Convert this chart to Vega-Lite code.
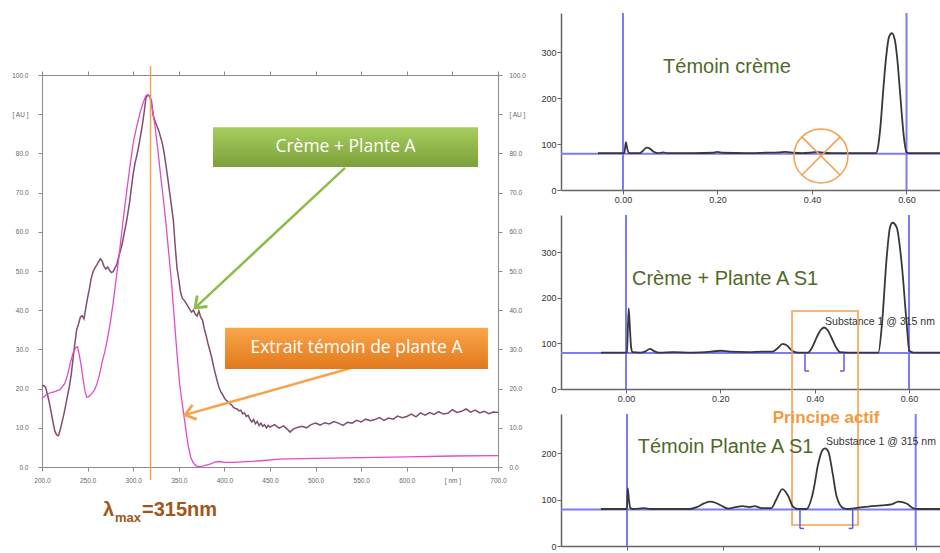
{
  "$schema": "https://vega.github.io/schema/vega-lite/v6.json",
  "width": 940,
  "height": 553,
  "autosize": {"type": "none"},
  "padding": 0,
  "background": "white",
  "config": {"view": {"stroke": null}, "axis": {"grid": false, "labelFlush": false, "labelOverlap": false}},
  "datasets": {
    "spectra": [
      {"s":"creme","nm":200,"au":20.5},{"s":"creme","nm":202,"au":20.8},{"s":"creme","nm":204,"au":20.3},{"s":"creme","nm":206,"au":18.5},{"s":"creme","nm":208,"au":16.5},{"s":"creme","nm":210,"au":14},{"s":"creme","nm":212,"au":11.5},{"s":"creme","nm":214,"au":9.2},{"s":"creme","nm":216,"au":8.2},{"s":"creme","nm":218,"au":8.0},{"s":"creme","nm":220,"au":9.5},{"s":"creme","nm":222,"au":11.5},{"s":"creme","nm":224,"au":13.5},{"s":"creme","nm":226,"au":15.8},{"s":"creme","nm":228,"au":18.2},{"s":"creme","nm":230,"au":20.5},{"s":"creme","nm":232,"au":23.5},{"s":"creme","nm":234,"au":27.5},{"s":"creme","nm":236,"au":31.5},{"s":"creme","nm":238,"au":35},{"s":"creme","nm":240,"au":36.5},{"s":"creme","nm":242,"au":38.2},{"s":"creme","nm":244,"au":38.6},{"s":"creme","nm":246,"au":37.8},{"s":"creme","nm":248,"au":40.5},{"s":"creme","nm":250,"au":43.2},{"s":"creme","nm":252,"au":45.5},{"s":"creme","nm":254,"au":48.2},{"s":"creme","nm":256,"au":49.8},{"s":"creme","nm":258,"au":50.8},{"s":"creme","nm":260,"au":51.5},{"s":"creme","nm":262,"au":52.4},{"s":"creme","nm":264,"au":53.1},{"s":"creme","nm":266,"au":52.5},{"s":"creme","nm":268,"au":51.2},{"s":"creme","nm":270,"au":50.5},{"s":"creme","nm":272,"au":51.0},{"s":"creme","nm":274,"au":50.2},{"s":"creme","nm":276,"au":49.6},{"s":"creme","nm":278,"au":49.8},{"s":"creme","nm":280,"au":50.8},{"s":"creme","nm":282,"au":51.6},{"s":"creme","nm":284,"au":53.5},{"s":"creme","nm":286,"au":55.2},{"s":"creme","nm":288,"au":57},{"s":"creme","nm":290,"au":59.5},{"s":"creme","nm":292,"au":61.8},{"s":"creme","nm":294,"au":64.5},{"s":"creme","nm":296,"au":67.5},{"s":"creme","nm":298,"au":71.2},{"s":"creme","nm":300,"au":74.8},{"s":"creme","nm":302,"au":77.5},{"s":"creme","nm":304,"au":79.5},{"s":"creme","nm":306,"au":81.8},{"s":"creme","nm":308,"au":84.5},{"s":"creme","nm":310,"au":87.2},{"s":"creme","nm":312,"au":90.5},{"s":"creme","nm":314,"au":94.2},{"s":"creme","nm":316,"au":94.9},{"s":"creme","nm":318,"au":94.7},{"s":"creme","nm":320,"au":93.4},{"s":"creme","nm":322,"au":89.5},{"s":"creme","nm":324,"au":88.2},{"s":"creme","nm":326,"au":87.0},{"s":"creme","nm":328,"au":85.8},{"s":"creme","nm":330,"au":84.2},{"s":"creme","nm":332,"au":82.5},{"s":"creme","nm":334,"au":80.0},{"s":"creme","nm":336,"au":76.8},{"s":"creme","nm":338,"au":73.5},{"s":"creme","nm":340,"au":70.0},{"s":"creme","nm":342,"au":66.5},{"s":"creme","nm":344,"au":63.0},{"s":"creme","nm":346,"au":56.5},{"s":"creme","nm":348,"au":50.8},{"s":"creme","nm":350,"au":47.8},{"s":"creme","nm":352,"au":44.5},{"s":"creme","nm":354,"au":43.0},{"s":"creme","nm":356,"au":42.5},{"s":"creme","nm":358,"au":41.8},{"s":"creme","nm":360,"au":41.0},{"s":"creme","nm":362,"au":40.2},{"s":"creme","nm":364,"au":39.5},{"s":"creme","nm":366,"au":40.0},{"s":"creme","nm":368,"au":39.0},{"s":"creme","nm":370,"au":38.5},{"s":"creme","nm":372,"au":39.8},{"s":"creme","nm":374,"au":38.2},{"s":"creme","nm":376,"au":37.5},{"s":"creme","nm":378,"au":35.2},{"s":"creme","nm":380,"au":33.5},{"s":"creme","nm":382,"au":31.5},{"s":"creme","nm":384,"au":29.8},{"s":"creme","nm":386,"au":28.0},{"s":"creme","nm":388,"au":25.8},{"s":"creme","nm":390,"au":23.9},{"s":"creme","nm":392,"au":22.0},{"s":"creme","nm":394,"au":20.4},{"s":"creme","nm":396,"au":19.2},{"s":"creme","nm":398,"au":18.5},{"s":"creme","nm":400,"au":17.6},{"s":"creme","nm":402,"au":17.0},{"s":"creme","nm":404,"au":16.7},{"s":"creme","nm":406,"au":16.2},{"s":"creme","nm":408,"au":15.8},{"s":"creme","nm":410,"au":15.2},{"s":"creme","nm":412,"au":14.9},{"s":"creme","nm":414,"au":14.8},{"s":"creme","nm":416,"au":14.3},{"s":"creme","nm":418,"au":14.5},{"s":"creme","nm":420,"au":13.6},{"s":"creme","nm":422,"au":13.8},{"s":"creme","nm":424,"au":12.9},{"s":"creme","nm":426,"au":13.2},{"s":"creme","nm":428,"au":12.2},{"s":"creme","nm":430,"au":11.5},{"s":"creme","nm":432,"au":12.1},{"s":"creme","nm":434,"au":11.0},{"s":"creme","nm":436,"au":11.6},{"s":"creme","nm":438,"au":10.6},{"s":"creme","nm":440,"au":11.2},{"s":"creme","nm":442,"au":10.4},{"s":"creme","nm":444,"au":10.8},{"s":"creme","nm":446,"au":10.0},{"s":"creme","nm":448,"au":10.6},{"s":"creme","nm":450,"au":10.2},{"s":"creme","nm":455,"au":10.8},{"s":"creme","nm":460,"au":9.9},{"s":"creme","nm":465,"au":10.5},{"s":"creme","nm":470,"au":9.4},{"s":"creme","nm":472,"au":8.9},{"s":"creme","nm":475,"au":9.6},{"s":"creme","nm":480,"au":10.1},{"s":"creme","nm":485,"au":10.4},{"s":"creme","nm":490,"au":10.0},{"s":"creme","nm":495,"au":10.8},{"s":"creme","nm":500,"au":11.2},{"s":"creme","nm":505,"au":10.7},{"s":"creme","nm":510,"au":11.3},{"s":"creme","nm":515,"au":11.0},{"s":"creme","nm":520,"au":11.6},{"s":"creme","nm":525,"au":11.2},{"s":"creme","nm":530,"au":10.6},{"s":"creme","nm":535,"au":11.4},{"s":"creme","nm":540,"au":11.2},{"s":"creme","nm":545,"au":11.9},{"s":"creme","nm":550,"au":11.5},{"s":"creme","nm":555,"au":12.2},{"s":"creme","nm":560,"au":11.8},{"s":"creme","nm":565,"au":12.1},{"s":"creme","nm":570,"au":12.6},{"s":"creme","nm":575,"au":11.9},{"s":"creme","nm":580,"au":12.5},{"s":"creme","nm":585,"au":12.2},{"s":"creme","nm":590,"au":13.0},{"s":"creme","nm":595,"au":12.6},{"s":"creme","nm":600,"au":12.9},{"s":"creme","nm":605,"au":13.5},{"s":"creme","nm":610,"au":12.8},{"s":"creme","nm":615,"au":13.8},{"s":"creme","nm":620,"au":13.2},{"s":"creme","nm":625,"au":13.9},{"s":"creme","nm":630,"au":13.4},{"s":"creme","nm":635,"au":14.1},{"s":"creme","nm":640,"au":13.5},{"s":"creme","nm":645,"au":13.7},{"s":"creme","nm":650,"au":14.6},{"s":"creme","nm":655,"au":13.9},{"s":"creme","nm":660,"au":14.2},{"s":"creme","nm":665,"au":14.8},{"s":"creme","nm":670,"au":14.0},{"s":"creme","nm":675,"au":14.5},{"s":"creme","nm":680,"au":13.8},{"s":"creme","nm":685,"au":14.2},{"s":"creme","nm":690,"au":13.6},{"s":"creme","nm":695,"au":14.0},{"s":"creme","nm":700,"au":13.9},
      {"s":"extrait","nm":200,"au":17.5},{"s":"extrait","nm":205,"au":18.5},{"s":"extrait","nm":210,"au":19.0},{"s":"extrait","nm":215,"au":19.3},{"s":"extrait","nm":220,"au":19.8},{"s":"extrait","nm":225,"au":21.3},{"s":"extrait","nm":228,"au":23.5},{"s":"extrait","nm":231,"au":26.5},{"s":"extrait","nm":234,"au":29.0},{"s":"extrait","nm":237,"au":30.5},{"s":"extrait","nm":239,"au":30.7},{"s":"extrait","nm":241,"au":28.5},{"s":"extrait","nm":243,"au":25.8},{"s":"extrait","nm":245,"au":22.5},{"s":"extrait","nm":247,"au":19.5},{"s":"extrait","nm":249,"au":17.8},{"s":"extrait","nm":251,"au":17.9},{"s":"extrait","nm":254,"au":18.6},{"s":"extrait","nm":257,"au":19.5},{"s":"extrait","nm":260,"au":21.0},{"s":"extrait","nm":263,"au":23.5},{"s":"extrait","nm":266,"au":26.8},{"s":"extrait","nm":269,"au":29.5},{"s":"extrait","nm":272,"au":33.0},{"s":"extrait","nm":275,"au":37.0},{"s":"extrait","nm":278,"au":41.8},{"s":"extrait","nm":281,"au":47.5},{"s":"extrait","nm":284,"au":53.0},{"s":"extrait","nm":287,"au":59.0},{"s":"extrait","nm":290,"au":65.0},{"s":"extrait","nm":293,"au":70.5},{"s":"extrait","nm":296,"au":76.0},{"s":"extrait","nm":300,"au":82.6},{"s":"extrait","nm":304,"au":87.0},{"s":"extrait","nm":308,"au":90.8},{"s":"extrait","nm":311,"au":93.0},{"s":"extrait","nm":314,"au":94.8},{"s":"extrait","nm":316,"au":95.0},{"s":"extrait","nm":318,"au":94.4},{"s":"extrait","nm":320,"au":92.5},{"s":"extrait","nm":322,"au":90.0},{"s":"extrait","nm":324,"au":86.8},{"s":"extrait","nm":327,"au":81.0},{"s":"extrait","nm":330,"au":74.5},{"s":"extrait","nm":333,"au":68.5},{"s":"extrait","nm":336,"au":62.0},{"s":"extrait","nm":339,"au":54.5},{"s":"extrait","nm":342,"au":47.0},{"s":"extrait","nm":345,"au":38.0},{"s":"extrait","nm":348,"au":29.0},{"s":"extrait","nm":351,"au":21.0},{"s":"extrait","nm":354,"au":15.8},{"s":"extrait","nm":357,"au":10.8},{"s":"extrait","nm":360,"au":5.8},{"s":"extrait","nm":363,"au":2.5},{"s":"extrait","nm":366,"au":1.0},{"s":"extrait","nm":369,"au":0.3},{"s":"extrait","nm":372,"au":0.1},{"s":"extrait","nm":376,"au":0.2},{"s":"extrait","nm":380,"au":0.5},{"s":"extrait","nm":385,"au":0.8},{"s":"extrait","nm":390,"au":1.3},{"s":"extrait","nm":395,"au":1.4},{"s":"extrait","nm":400,"au":1.2},{"s":"extrait","nm":410,"au":1.2},{"s":"extrait","nm":420,"au":1.3},{"s":"extrait","nm":440,"au":1.6},{"s":"extrait","nm":460,"au":2.0},{"s":"extrait","nm":500,"au":2.2},{"s":"extrait","nm":550,"au":2.4},{"s":"extrait","nm":600,"au":2.6},{"s":"extrait","nm":650,"au":2.8},{"s":"extrait","nm":700,"au":2.9}
    ],
    "chrom": [
      {"p":"p1","t":-0.053,"v":80},{"p":"p1","t":-0.02,"v":80},{"p":"p1","t":0.0,"v":80},{"p":"p1","t":0.003,"v":81},{"p":"p1","t":0.006,"v":104},{"p":"p1","t":0.009,"v":90},{"p":"p1","t":0.012,"v":81},{"p":"p1","t":0.02,"v":80},{"p":"p1","t":0.035,"v":80},{"p":"p1","t":0.042,"v":85},{"p":"p1","t":0.05,"v":92},{"p":"p1","t":0.057,"v":90},{"p":"p1","t":0.065,"v":83},{"p":"p1","t":0.075,"v":80},{"p":"p1","t":0.085,"v":82},{"p":"p1","t":0.095,"v":80},{"p":"p1","t":0.15,"v":80},{"p":"p1","t":0.19,"v":81},{"p":"p1","t":0.2,"v":83},{"p":"p1","t":0.21,"v":81},{"p":"p1","t":0.26,"v":80},{"p":"p1","t":0.3,"v":81},{"p":"p1","t":0.33,"v":82},{"p":"p1","t":0.345,"v":83},{"p":"p1","t":0.36,"v":81},{"p":"p1","t":0.38,"v":80},{"p":"p1","t":0.395,"v":81},{"p":"p1","t":0.41,"v":83},{"p":"p1","t":0.425,"v":81},{"p":"p1","t":0.44,"v":80},{"p":"p1","t":0.535,"v":80},{"p":"p1","t":0.54,"v":95},{"p":"p1","t":0.545,"v":140},{"p":"p1","t":0.551,"v":220},{"p":"p1","t":0.557,"v":290},{"p":"p1","t":0.563,"v":333},{"p":"p1","t":0.569,"v":341},{"p":"p1","t":0.575,"v":328},{"p":"p1","t":0.58,"v":290},{"p":"p1","t":0.585,"v":230},{"p":"p1","t":0.59,"v":165},{"p":"p1","t":0.595,"v":110},{"p":"p1","t":0.6,"v":82},{"p":"p1","t":0.605,"v":80},{"p":"p1","t":0.671,"v":80},
      {"p":"p2","t":-0.053,"v":80},{"p":"p2","t":0.0,"v":80},{"p":"p2","t":0.002,"v":81},{"p":"p2","t":0.0057,"v":177},{"p":"p2","t":0.0085,"v":130},{"p":"p2","t":0.011,"v":90},{"p":"p2","t":0.014,"v":81},{"p":"p2","t":0.03,"v":80},{"p":"p2","t":0.04,"v":82},{"p":"p2","t":0.051,"v":88},{"p":"p2","t":0.06,"v":83},{"p":"p2","t":0.07,"v":80},{"p":"p2","t":0.1,"v":81},{"p":"p2","t":0.14,"v":80},{"p":"p2","t":0.18,"v":82},{"p":"p2","t":0.2,"v":84},{"p":"p2","t":0.22,"v":82},{"p":"p2","t":0.26,"v":81},{"p":"p2","t":0.29,"v":82},{"p":"p2","t":0.31,"v":82},{"p":"p2","t":0.322,"v":90},{"p":"p2","t":0.332,"v":99},{"p":"p2","t":0.342,"v":95},{"p":"p2","t":0.352,"v":84},{"p":"p2","t":0.365,"v":80},{"p":"p2","t":0.386,"v":80},{"p":"p2","t":0.395,"v":92},{"p":"p2","t":0.405,"v":115},{"p":"p2","t":0.414,"v":131},{"p":"p2","t":0.42,"v":135},{"p":"p2","t":0.427,"v":130},{"p":"p2","t":0.436,"v":112},{"p":"p2","t":0.445,"v":92},{"p":"p2","t":0.454,"v":81},{"p":"p2","t":0.47,"v":80},{"p":"p2","t":0.535,"v":80},{"p":"p2","t":0.5427,"v":143},{"p":"p2","t":0.5527,"v":289},{"p":"p2","t":0.5597,"v":355},{"p":"p2","t":0.565,"v":365},{"p":"p2","t":0.5739,"v":355},{"p":"p2","t":0.5845,"v":275},{"p":"p2","t":0.5951,"v":143},{"p":"p2","t":0.6006,"v":84},{"p":"p2","t":0.61,"v":80},{"p":"p2","t":0.666,"v":80},
      {"p":"p3","t":-0.054,"v":80},{"p":"p3","t":-0.005,"v":80},{"p":"p3","t":0.0,"v":81},{"p":"p3","t":0.0015,"v":125},{"p":"p3","t":0.004,"v":100},{"p":"p3","t":0.007,"v":82},{"p":"p3","t":0.012,"v":80},{"p":"p3","t":0.035,"v":82},{"p":"p3","t":0.05,"v":80},{"p":"p3","t":0.13,"v":80},{"p":"p3","t":0.145,"v":84},{"p":"p3","t":0.16,"v":92},{"p":"p3","t":0.1725,"v":96},{"p":"p3","t":0.185,"v":93},{"p":"p3","t":0.2,"v":85},{"p":"p3","t":0.21,"v":81},{"p":"p3","t":0.225,"v":84},{"p":"p3","t":0.24,"v":86},{"p":"p3","t":0.255,"v":84},{"p":"p3","t":0.265,"v":86},{"p":"p3","t":0.28,"v":82},{"p":"p3","t":0.3,"v":82},{"p":"p3","t":0.31,"v":100},{"p":"p3","t":0.323,"v":123},{"p":"p3","t":0.335,"v":108},{"p":"p3","t":0.345,"v":85},{"p":"p3","t":0.355,"v":80},{"p":"p3","t":0.373,"v":80},{"p":"p3","t":0.387,"v":118},{"p":"p3","t":0.3976,"v":179},{"p":"p3","t":0.4066,"v":208},{"p":"p3","t":0.4115,"v":211},{"p":"p3","t":0.4184,"v":204},{"p":"p3","t":0.4274,"v":157},{"p":"p3","t":0.4357,"v":107},{"p":"p3","t":0.4495,"v":82},{"p":"p3","t":0.46,"v":80},{"p":"p3","t":0.49,"v":84},{"p":"p3","t":0.53,"v":88},{"p":"p3","t":0.55,"v":90},{"p":"p3","t":0.564,"v":96},{"p":"p3","t":0.581,"v":92},{"p":"p3","t":0.594,"v":82},{"p":"p3","t":0.605,"v":80},{"p":"p3","t":0.6505,"v":80}
    ],
    "bluelines": [{"t":0},{"t":0.6}],
    "brackets": [
      {"p":"p2","t":0.3795,"te":0.388,"lo":39.5,"base":79},
      {"p":"p2","t":0.4622,"te":0.4537,"lo":39.5,"base":79},
      {"p":"p3","t":0.3595,"te":0.3678,"lo":38,"base":79},
      {"p":"p3","t":0.469,"te":0.4607,"lo":38,"base":79}
    ]
  },
  "resolve": {"scale": {"x": "independent", "y": "independent"}, "axis": {"x": "independent", "y": "independent"}},
  "layer": [
    {
      "resolve": {"axis": {"x": "independent", "y": "independent"}},
      "layer": [
        {
          "data": {"name": "spectra"},
          "transform": [{"filter": "datum.s == 'creme'"}],
          "mark": {"type": "line", "color": "#7f4e70", "strokeWidth": 1.5},
          "encoding": {
            "x": {"field": "nm", "type": "quantitative", "scale": {"domain": [200, 700], "range": [42, 498], "nice": false, "zero": false},
              "axis": {"orient": "bottom", "offset": -86, "title": null, "values": [200,250,300,350,400,450,500,550,600,650,700], "labelExpr": "datum.value == 650 ? '[ nm ]' : format(datum.value, '.1f')", "domainColor": "#8a8a8a", "tickColor": "#8a8a8a", "tickSize": 4, "labelFontSize": 6.5, "labelColor": "#666", "labelFont": "Liberation Sans", "labelPadding": 6}},
            "y": {"field": "au", "type": "quantitative", "scale": {"domain": [0, 100], "range": [467, 75], "nice": false, "zero": false},
              "axis": {"orient": "left", "offset": -42, "title": null, "values": [0,10,20,30,40,50,60,70,80,90,100], "labelExpr": "datum.value == 90 ? '[ AU ]' : format(datum.value, '.1f')", "domainColor": "#8a8a8a", "tickColor": "#8a8a8a", "tickSize": 4, "labelFontSize": 6.5, "labelColor": "#666", "labelFont": "Liberation Sans", "labelPadding": 10}}
          }
        },
        {
          "data": {"name": "spectra"},
          "transform": [{"filter": "datum.s == 'extrait'"}],
          "mark": {"type": "line", "color": "#e24ccb", "strokeWidth": 1.3},
          "encoding": {
            "x": {"field": "nm", "type": "quantitative", "scale": {"domain": [200, 700], "range": [42, 498], "nice": false, "zero": false},
              "axis": {"orient": "top", "offset": -75, "title": null, "labels": false, "values": [200,250,300,350,400,450,500,550,600,650,700], "domainColor": "#8a8a8a", "tickColor": "#8a8a8a", "tickSize": 4}},
            "y": {"field": "au", "type": "quantitative", "scale": {"domain": [0, 100], "range": [467, 75], "nice": false, "zero": false},
              "axis": {"orient": "right", "offset": -442, "title": null, "values": [0,10,20,30,40,50,60,70,80,90,100], "labelExpr": "datum.value == 90 ? '[ AU ]' : format(datum.value, '.1f')", "domainColor": "#8a8a8a", "tickColor": "#8a8a8a", "tickSize": 4, "labelFontSize": 6.5, "labelColor": "#666", "labelFont": "Liberation Sans", "labelPadding": 7}}
          }
        },
        {
          "data": {"values": [{}]},
          "mark": {"type": "rule", "color": "#f4a24c", "strokeWidth": 1.5},
          "encoding": {
            "x": {"datum": 319, "type": "quantitative", "scale": {"domain": [200, 700], "range": [42, 498], "nice": false, "zero": false}, "axis": null},
            "y": {"datum": -3.3, "type": "quantitative", "scale": {"domain": [0, 100], "range": [467, 75], "nice": false, "zero": false}, "axis": null},
            "y2": {"datum": 102.3}
          }
        },
        {
          "data": {"values": [{}]},
          "mark": {"type": "rule", "color": "#8dbb47", "strokeWidth": 2.5},
          "encoding": {
            "x": {"datum": 532.2, "type": "quantitative", "scale": {"domain": [200, 700], "range": [42, 498], "nice": false, "zero": false}, "axis": null},
            "y": {"datum": 76.3, "type": "quantitative", "scale": {"domain": [0, 100], "range": [467, 75], "nice": false, "zero": false}, "axis": null},
            "x2": {"datum": 367.8},
            "y2": {"datum": 40.6}
          }
        },
        {
          "data": {"values": [{}]},
          "mark": {"type": "point", "shape": "M-1,-0.75L0,0L-1,0.75", "size": 400, "filled": false, "color": "#8dbb47", "strokeWidth": 2.8, "angle": 137, "opacity": 1},
          "encoding": {
            "x": {"datum": 367.8, "type": "quantitative", "scale": {"domain": [200, 700], "range": [42, 498], "nice": false, "zero": false}, "axis": null},
            "y": {"datum": 40.6, "type": "quantitative", "scale": {"domain": [0, 100], "range": [467, 75], "nice": false, "zero": false}, "axis": null}
          }
        },
        {
          "data": {"values": [{}]},
          "mark": {"type": "rule", "color": "#f6a24e", "strokeWidth": 2.5},
          "encoding": {
            "x": {"datum": 539.9, "type": "quantitative", "scale": {"domain": [200, 700], "range": [42, 498], "nice": false, "zero": false}, "axis": null},
            "y": {"datum": 25.3, "type": "quantitative", "scale": {"domain": [0, 100], "range": [467, 75], "nice": false, "zero": false}, "axis": null},
            "x2": {"datum": 356.8},
            "y2": {"datum": 13.3}
          }
        },
        {
          "data": {"values": [{}]},
          "mark": {"type": "point", "shape": "M-1,-0.75L0,0L-1,0.75", "size": 400, "filled": false, "color": "#f6a24e", "strokeWidth": 2.8, "angle": 164, "opacity": 1},
          "encoding": {
            "x": {"datum": 356.8, "type": "quantitative", "scale": {"domain": [200, 700], "range": [42, 498], "nice": false, "zero": false}, "axis": null},
            "y": {"datum": 13.3, "type": "quantitative", "scale": {"domain": [0, 100], "range": [467, 75], "nice": false, "zero": false}, "axis": null}
          }
        },
        {
          "data": {"values": [{"label": "Crème + Plante A", "x1": 387.5, "x2": 678.1, "y1": 86.7, "y2": 76.5}]},
          "mark": {"type": "rect", "fill": {"gradient": "linear", "x1": 0, "y1": 0, "x2": 0, "y2": 1, "stops": [{"offset": 0, "color": "#a8cd5e"}, {"offset": 1, "color": "#7ca03a"}]}},
          "encoding": {
            "x": {"field": "x1", "type": "quantitative", "scale": {"domain": [200, 700], "range": [42, 498], "nice": false, "zero": false}, "axis": null},
            "x2": {"field": "x2"},
            "y": {"field": "y1", "type": "quantitative", "scale": {"domain": [0, 100], "range": [467, 75], "nice": false, "zero": false}, "axis": null},
            "y2": {"field": "y2"}
          }
        },
        {
          "data": {"values": [{"label": "Extrait témoin de plante A", "x1": 400.7, "x2": 689.0, "y1": 35.5, "y2": 25.0}]},
          "mark": {"type": "rect", "fill": {"gradient": "linear", "x1": 0, "y1": 0, "x2": 0, "y2": 1, "stops": [{"offset": 0, "color": "#faa64b"}, {"offset": 1, "color": "#e2781c"}]}},
          "encoding": {
            "x": {"field": "x1", "type": "quantitative", "scale": {"domain": [200, 700], "range": [42, 498], "nice": false, "zero": false}, "axis": null},
            "x2": {"field": "x2"},
            "y": {"field": "y1", "type": "quantitative", "scale": {"domain": [0, 100], "range": [467, 75], "nice": false, "zero": false}, "axis": null},
            "y2": {"field": "y2"}
          }
        },
        {
          "data": {"values": [{"label": "Crème + Plante A", "tx": 532.8, "ty": 81.6}, {"label": "Extrait témoin de plante A", "tx": 544.8, "ty": 30.25}]},
          "mark": {"type": "text", "font": "Open Sans", "fontSize": 17.5, "color": "white", "align": "center", "baseline": "middle"},
          "encoding": {
            "x": {"field": "tx", "type": "quantitative", "scale": {"domain": [200, 700], "range": [42, 498], "nice": false, "zero": false}, "axis": null},
            "y": {"field": "ty", "type": "quantitative", "scale": {"domain": [0, 100], "range": [467, 75], "nice": false, "zero": false}, "axis": null},
            "text": {"field": "label"}
          }
        },
        {
          "data": {"values": [{"t": "λ", "x": 266.9, "y": -12.5}, {"t": "=315nm", "x": 309.7, "y": -12.5}]},
          "mark": {"type": "text", "font": "Liberation Sans", "fontWeight": "bold", "fontSize": 20, "color": "#a0561c", "align": "left", "baseline": "alphabetic"},
          "encoding": {
            "x": {"field": "x", "type": "quantitative", "scale": {"domain": [200, 700], "range": [42, 498], "nice": false, "zero": false}, "axis": null},
            "y": {"field": "y", "type": "quantitative", "scale": {"domain": [0, 100], "range": [467, 75], "nice": false, "zero": false}, "axis": null},
            "text": {"field": "t"}
          }
        },
        {
          "data": {"values": [{"t": "max", "x": 280.0, "y": -14.0}]},
          "mark": {"type": "text", "font": "Liberation Sans", "fontWeight": "bold", "fontSize": 13, "color": "#a0561c", "align": "left", "baseline": "alphabetic"},
          "encoding": {
            "x": {"field": "x", "type": "quantitative", "scale": {"domain": [200, 700], "range": [42, 498], "nice": false, "zero": false}, "axis": null},
            "y": {"field": "y", "type": "quantitative", "scale": {"domain": [0, 100], "range": [467, 75], "nice": false, "zero": false}, "axis": null},
            "text": {"field": "t"}
          }
        }
      ]
    },
    {
      "resolve": {"axis": {"x": "independent", "y": "independent"}},
      "layer": [
        {
          "data": {"values": [{}]},
          "mark": {"type": "rule", "color": "#7b7bf6", "strokeWidth": 2},
          "encoding": {
            "x": {"datum": -0.1312, "type": "quantitative", "scale": {"domain": [-0.1312, 0.6709], "range": [561, 940], "nice": false, "zero": false}, "axis": null},
            "x2": {"datum": 0.6709},
            "y": {"datum": 79, "type": "quantitative", "scale": {"domain": [0, 385], "range": [190, 13], "nice": false, "zero": false}, "axis": null}
          }
        },
        {
          "data": {"name": "bluelines"},
          "mark": {"type": "rule", "color": "#7b7bf6", "strokeWidth": 2},
          "encoding": {
            "x": {"field": "t", "type": "quantitative", "scale": {"domain": [-0.1312, 0.6709], "range": [561, 940], "nice": false, "zero": false}, "axis": null},
            "y": {"datum": 0, "type": "quantitative", "scale": {"domain": [0, 385], "range": [190, 13], "nice": false, "zero": false}, "axis": null},
            "y2": {"datum": 385}
          }
        },
        {
          "data": {"name": "chrom"},
          "transform": [{"filter": "datum.p == 'p1'"}],
          "mark": {"type": "line", "color": "#383838", "strokeWidth": 1.8, "interpolate": "monotone"},
          "encoding": {
            "x": {"field": "t", "type": "quantitative", "scale": {"domain": [-0.1312, 0.6709], "range": [561, 940], "nice": false, "zero": false},
              "axis": {"orient": "bottom", "offset": -363, "title": null, "values": [0, 0.2, 0.4, 0.6], "format": ".2f", "domainColor": "#666", "domainWidth": 1.5, "tickColor": "#666", "tickSize": 4, "labelFontSize": 9, "labelColor": "#333", "labelFont": "Liberation Sans", "labelPadding": 1}},
            "y": {"field": "v", "type": "quantitative", "scale": {"domain": [0, 385], "range": [190, 13], "nice": false, "zero": false},
              "axis": {"orient": "left", "offset": -561, "title": null, "values": [0, 100, 200, 300], "domainColor": "#666", "domainWidth": 1.5, "tickColor": "#666", "tickSize": 4, "labelFontSize": 9, "labelColor": "#333", "labelFont": "Liberation Sans", "labelPadding": 1}}
          }
        },
        {
          "data": {"values": [{"t": 0.22, "v": 267.6, "label": "Témoin crème"}]},
          "mark": {"type": "text", "font": "Liberation Sans", "fontSize": 20, "color": "#4f6a26", "align": "center", "baseline": "middle"},
          "encoding": {
            "x": {"field": "t", "type": "quantitative", "scale": {"domain": [-0.1312, 0.6709], "range": [561, 940], "nice": false, "zero": false}, "axis": null},
            "y": {"field": "v", "type": "quantitative", "scale": {"domain": [0, 385], "range": [190, 13], "nice": false, "zero": false}, "axis": null},
            "text": {"field": "label"}
          }
        },
        {
          "data": {"values": [{"t": 0.419, "v": 74}]},
          "mark": {"type": "point", "shape": "M-1,0A1,1,0,1,0,1,0A1,1,0,1,0,-1,0M-0.707,-0.707L0.707,0.707M-0.707,0.707L0.707,-0.707", "size": 2916, "filled": false, "color": "#f5a04e", "strokeWidth": 1.5, "opacity": 1},
          "encoding": {
            "x": {"field": "t", "type": "quantitative", "scale": {"domain": [-0.1312, 0.6709], "range": [561, 940], "nice": false, "zero": false}, "axis": null},
            "y": {"field": "v", "type": "quantitative", "scale": {"domain": [0, 385], "range": [190, 13], "nice": false, "zero": false}, "axis": null}
          }
        }
      ]
    },
    {
      "resolve": {"axis": {"x": "independent", "y": "independent"}},
      "layer": [
        {
          "data": {"values": [{}]},
          "mark": {"type": "rule", "color": "#7b7bf6", "strokeWidth": 2},
          "encoding": {
            "x": {"datum": -0.1378, "type": "quantitative", "scale": {"domain": [-0.1378, 0.6657], "range": [561, 940], "nice": false, "zero": false}, "axis": null},
            "x2": {"datum": 0.6657},
            "y": {"datum": 79, "type": "quantitative", "scale": {"domain": [0, 382], "range": [389, 215], "nice": false, "zero": false}, "axis": null}
          }
        },
        {
          "data": {"name": "bluelines"},
          "mark": {"type": "rule", "color": "#7b7bf6", "strokeWidth": 2},
          "encoding": {
            "x": {"field": "t", "type": "quantitative", "scale": {"domain": [-0.1378, 0.6657], "range": [561, 940], "nice": false, "zero": false}, "axis": null},
            "y": {"datum": 0, "type": "quantitative", "scale": {"domain": [0, 382], "range": [389, 215], "nice": false, "zero": false}, "axis": null},
            "y2": {"datum": 382}
          }
        },
        {
          "data": {"name": "chrom"},
          "transform": [{"filter": "datum.p == 'p2'"}],
          "mark": {"type": "line", "color": "#383838", "strokeWidth": 1.8, "interpolate": "monotone"},
          "encoding": {
            "x": {"field": "t", "type": "quantitative", "scale": {"domain": [-0.1378, 0.6657], "range": [561, 940], "nice": false, "zero": false},
              "axis": {"orient": "bottom", "offset": -164, "title": null, "values": [0, 0.2, 0.4, 0.6], "format": ".2f", "domainColor": "#666", "domainWidth": 1.5, "tickColor": "#666", "tickSize": 4, "labelFontSize": 9, "labelColor": "#333", "labelFont": "Liberation Sans", "labelPadding": 1}},
            "y": {"field": "v", "type": "quantitative", "scale": {"domain": [0, 382], "range": [389, 215], "nice": false, "zero": false},
              "axis": {"orient": "left", "offset": -561, "title": null, "values": [0, 100, 200, 300], "domainColor": "#666", "domainWidth": 1.5, "tickColor": "#666", "tickSize": 4, "labelFontSize": 9, "labelColor": "#333", "labelFont": "Liberation Sans", "labelPadding": 1}}
          }
        },
        {
          "data": {"name": "brackets"},
          "transform": [{"filter": "datum.p == 'p2'"}],
          "mark": {"type": "rule", "color": "#5a5af0", "strokeWidth": 1.5},
          "encoding": {
            "x": {"field": "t", "type": "quantitative", "scale": {"domain": [-0.1378, 0.6657], "range": [561, 940], "nice": false, "zero": false}, "axis": null},
            "y": {"field": "lo", "type": "quantitative", "scale": {"domain": [0, 382], "range": [389, 215], "nice": false, "zero": false}, "axis": null},
            "y2": {"field": "base"}
          }
        },
        {
          "data": {"name": "brackets"},
          "transform": [{"filter": "datum.p == 'p2'"}],
          "mark": {"type": "rule", "color": "#5a5af0", "strokeWidth": 1.5},
          "encoding": {
            "x": {"field": "t", "type": "quantitative", "scale": {"domain": [-0.1378, 0.6657], "range": [561, 940], "nice": false, "zero": false}, "axis": null},
            "x2": {"field": "te"},
            "y": {"field": "lo", "type": "quantitative", "scale": {"domain": [0, 382], "range": [389, 215], "nice": false, "zero": false}, "axis": null}
          }
        },
        {
          "data": {"values": [{"t": 0.21, "v": 241.5, "label": "Crème + Plante A S1"}]},
          "mark": {"type": "text", "font": "Liberation Sans", "fontSize": 20, "color": "#4f6a26", "align": "center", "baseline": "middle"},
          "encoding": {
            "x": {"field": "t", "type": "quantitative", "scale": {"domain": [-0.1378, 0.6657], "range": [561, 940], "nice": false, "zero": false}, "axis": null},
            "y": {"field": "v", "type": "quantitative", "scale": {"domain": [0, 382], "range": [389, 215], "nice": false, "zero": false}, "axis": null},
            "text": {"field": "label"}
          }
        },
        {
          "data": {"values": [{"t": 0.422, "v": 147, "label": "Substance 1 @ 315 nm"}]},
          "mark": {"type": "text", "font": "Liberation Sans", "fontSize": 10.5, "color": "#333", "align": "left", "baseline": "middle"},
          "encoding": {
            "x": {"field": "t", "type": "quantitative", "scale": {"domain": [-0.1378, 0.6657], "range": [561, 940], "nice": false, "zero": false}, "axis": null},
            "y": {"field": "v", "type": "quantitative", "scale": {"domain": [0, 382], "range": [389, 215], "nice": false, "zero": false}, "axis": null},
            "text": {"field": "label"}
          }
        },
        {
          "data": {"values": [{}]},
          "mark": {"type": "rect", "filled": false, "color": "#f5a04e", "strokeWidth": 1.6},
          "encoding": {
            "x": {"datum": 0.352, "type": "quantitative", "scale": {"domain": [-0.1378, 0.6657], "range": [561, 940], "nice": false, "zero": false}, "axis": null},
            "x2": {"datum": 0.492},
            "y": {"datum": 171.2, "type": "quantitative", "scale": {"domain": [0, 382], "range": [389, 215], "nice": false, "zero": false}, "axis": null},
            "y2": {"datum": -298.6}
          }
        }
      ]
    },
    {
      "resolve": {"axis": {"x": "independent", "y": "independent"}},
      "layer": [
        {
          "data": {"values": [{}]},
          "mark": {"type": "rule", "color": "#7b7bf6", "strokeWidth": 2},
          "encoding": {
            "x": {"datum": -0.1372, "type": "quantitative", "scale": {"domain": [-0.1372, 0.6505], "range": [561, 940], "nice": false, "zero": false}, "axis": null},
            "x2": {"datum": 0.6505},
            "y": {"datum": 79, "type": "quantitative", "scale": {"domain": [0, 285.4], "range": [546, 414], "nice": false, "zero": false}, "axis": null}
          }
        },
        {
          "data": {"name": "bluelines"},
          "mark": {"type": "rule", "color": "#7b7bf6", "strokeWidth": 2},
          "encoding": {
            "x": {"field": "t", "type": "quantitative", "scale": {"domain": [-0.1372, 0.6505], "range": [561, 940], "nice": false, "zero": false}, "axis": null},
            "y": {"datum": 0, "type": "quantitative", "scale": {"domain": [0, 285.4], "range": [546, 414], "nice": false, "zero": false}, "axis": null},
            "y2": {"datum": 285.4}
          }
        },
        {
          "data": {"name": "chrom"},
          "transform": [{"filter": "datum.p == 'p3'"}],
          "mark": {"type": "line", "color": "#383838", "strokeWidth": 1.8, "interpolate": "monotone"},
          "encoding": {
            "x": {"field": "t", "type": "quantitative", "scale": {"domain": [-0.1372, 0.6505], "range": [561, 940], "nice": false, "zero": false},
              "axis": {"orient": "bottom", "offset": -7, "title": null, "values": [0, 0.2, 0.4, 0.6], "labels": false, "domainColor": "#666", "domainWidth": 1.5, "tickColor": "#666", "tickSize": 4}},
            "y": {"field": "v", "type": "quantitative", "scale": {"domain": [0, 285.4], "range": [546, 414], "nice": false, "zero": false},
              "axis": {"orient": "left", "offset": -561, "title": null, "values": [0, 100, 200], "domainColor": "#666", "domainWidth": 1.5, "tickColor": "#666", "tickSize": 4, "labelFontSize": 9, "labelColor": "#333", "labelFont": "Liberation Sans", "labelPadding": 1}}
          }
        },
        {
          "data": {"name": "brackets"},
          "transform": [{"filter": "datum.p == 'p3'"}],
          "mark": {"type": "rule", "color": "#5a5af0", "strokeWidth": 1.5},
          "encoding": {
            "x": {"field": "t", "type": "quantitative", "scale": {"domain": [-0.1372, 0.6505], "range": [561, 940], "nice": false, "zero": false}, "axis": null},
            "y": {"field": "lo", "type": "quantitative", "scale": {"domain": [0, 285.4], "range": [546, 414], "nice": false, "zero": false}, "axis": null},
            "y2": {"field": "base"}
          }
        },
        {
          "data": {"name": "brackets"},
          "transform": [{"filter": "datum.p == 'p3'"}],
          "mark": {"type": "rule", "color": "#5a5af0", "strokeWidth": 1.5},
          "encoding": {
            "x": {"field": "t", "type": "quantitative", "scale": {"domain": [-0.1372, 0.6505], "range": [561, 940], "nice": false, "zero": false}, "axis": null},
            "x2": {"field": "te"},
            "y": {"field": "lo", "type": "quantitative", "scale": {"domain": [0, 285.4], "range": [546, 414], "nice": false, "zero": false}, "axis": null}
          }
        },
        {
          "data": {"values": [{"t": 0.2047, "v": 213.4, "label": "Témoin Plante A S1"}]},
          "mark": {"type": "text", "font": "Liberation Sans", "fontSize": 20, "color": "#4f6a26", "align": "center", "baseline": "middle"},
          "encoding": {
            "x": {"field": "t", "type": "quantitative", "scale": {"domain": [-0.1372, 0.6505], "range": [561, 940], "nice": false, "zero": false}, "axis": null},
            "y": {"field": "v", "type": "quantitative", "scale": {"domain": [0, 285.4], "range": [546, 414], "nice": false, "zero": false}, "axis": null},
            "text": {"field": "label"}
          }
        },
        {
          "data": {"values": [{"t": 0.4136, "v": 225.5, "label": "Substance 1 @ 315 nm"}]},
          "mark": {"type": "text", "font": "Liberation Sans", "fontSize": 10.5, "color": "#333", "align": "left", "baseline": "middle"},
          "encoding": {
            "x": {"field": "t", "type": "quantitative", "scale": {"domain": [-0.1372, 0.6505], "range": [561, 940], "nice": false, "zero": false}, "axis": null},
            "y": {"field": "v", "type": "quantitative", "scale": {"domain": [0, 285.4], "range": [546, 414], "nice": false, "zero": false}, "axis": null},
            "text": {"field": "label"}
          }
        },
        {
          "data": {"values": [{"t": 0.4136, "v": 276.8, "label": "Principe actif"}]},
          "mark": {"type": "text", "font": "Liberation Sans", "fontWeight": "bold", "fontSize": 17, "color": "#f5983a", "align": "center", "baseline": "middle"},
          "encoding": {
            "x": {"field": "t", "type": "quantitative", "scale": {"domain": [-0.1372, 0.6505], "range": [561, 940], "nice": false, "zero": false}, "axis": null},
            "y": {"field": "v", "type": "quantitative", "scale": {"domain": [0, 285.4], "range": [546, 414], "nice": false, "zero": false}, "axis": null},
            "text": {"field": "label"}
          }
        }
      ]
    }
  ]
}
